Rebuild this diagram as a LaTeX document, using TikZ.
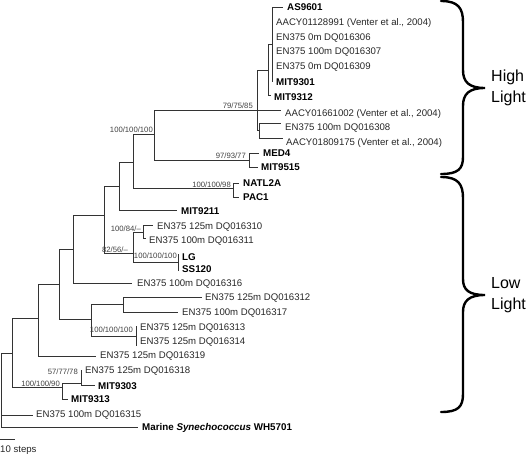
\documentclass[tikz,border=0pt]{standalone}
\usepackage{fontspec}
\setmainfont{Liberation Sans}
\begin{document}
\begin{tikzpicture}[x=1pt,y=-1pt,
  br/.style={draw=black!80,line width=0.8pt},
  lf/.style={anchor=west,inner sep=0pt,text=black!85,font=\fontsize{9.6}{11}\selectfont},
  lfb/.style={anchor=west,inner sep=0pt,text=black,font=\fontsize{9.8}{11}\selectfont\bfseries},
  bs/.style={anchor=east,inner sep=0pt,text=black!75,font=\fontsize{7.7}{9}\selectfont},
  brace/.style={draw=black,line width=2.4pt,line cap=round},
  bl/.style={anchor=west,inner sep=0pt,align=left,font=\fontsize{16}{21}\selectfont}]
\useasboundingbox (0,0) rectangle (528,455);
% internal nodes
\coordinate (R) at (1,353);
\coordinate (n12) at (12,353);
\coordinate (n38) at (38,318);
\coordinate (n59) at (59,284);
\coordinate (n73) at (73,249);
\coordinate (n104) at (104,215);
\coordinate (n119) at (119,186);
\coordinate (n133) at (133,162);
\coordinate (n154) at (154,134);
\coordinate (n257) at (257,110);
\coordinate (n268) at (268,70);
\coordinate (n272) at (272,44);
\coordinate (n259) at (259,130);
\coordinate (n249) at (249,160);
\coordinate (n233) at (233,188);
\coordinate (n133b) at (133,253);
\coordinate (n143) at (143,232);
\coordinate (n178) at (178,262);
\coordinate (n91) at (91,319);
\coordinate (n123) at (123,304);
\coordinate (n136) at (136,336);
\coordinate (n62) at (62,387);
\coordinate (n81) at (81,383);
% leaf ends
\coordinate (eAS) at (283,7);
\coordinate (eA1) at (272,23);
\coordinate (e306) at (272,38);
\coordinate (e307) at (272,52);
\coordinate (e309) at (272,67);
\coordinate (e9301) at (272,82);
\coordinate (e9312) at (271,95);
\coordinate (eA2) at (281,110);
\coordinate (e308) at (281,123);
\coordinate (eA3) at (283,138);
\coordinate (eMED4) at (259,153);
\coordinate (e9515) at (258,167);
\coordinate (eNATL) at (239,183);
\coordinate (ePAC) at (239,197);
\coordinate (e9211) at (177,210);
\coordinate (e310) at (153,225);
\coordinate (e311) at (146,238);
\coordinate (eLG) at (178,254);
\coordinate (eSS) at (178,271);
\coordinate (e316) at (132,283);
\coordinate (e312) at (202,297);
\coordinate (e317) at (178,312);
\coordinate (e313) at (136,326);
\coordinate (e314) at (136,346);
\coordinate (e319) at (96,356);
\coordinate (e318) at (81,370);
\coordinate (e9303) at (95,385);
\coordinate (e9313) at (68,399);
\coordinate (e315) at (33,415);
\coordinate (eSyn) at (138,427);
% branches
\draw[br] (R) |- (n12) (R) |- (e315) (R) |- (eSyn);
\draw[br] (n12) |- (n38) (n12) |- (n62);
\draw[br] (n38) |- (n59) (n38) |- (e319);
\draw[br] (n59) |- (n73) (n59) |- (n91);
\draw[br] (n73) |- (n104) (n73) |- (e316);
\draw[br] (n104) |- (n119) (n104) |- (n133b);
\draw[br] (n119) |- (n133) (n119) |- (e9211);
\draw[br] (n133) |- (n154) (n133) |- (n233);
\draw[br] (n154) |- (n257) (n154) |- (n249);
\draw[br] (n257) |- (n268) (n257) |- (eA2) (n257) |- (n259);
\draw[br] (n268) |- (n272) (n268) |- (e9312);
\draw[br] (n272) |- (eAS) (n272) |- (e9301);
\draw[br] (n259) |- (e308) (n259) |- (eA3);
\draw[br] (n249) |- (eMED4) (n249) |- (e9515);
\draw[br] (n233) |- (eNATL) (n233) |- (ePAC);
\draw[br] (n133b) |- (n143) (n133b) |- (n178);
\draw[br] (n143) |- (e310) (n143) |- (e311);
\draw[br] (n178) |- (eLG) (n178) |- (eSS);
\draw[br] (n91) |- (n123) (n91) |- (n136);
\draw[br] (n123) |- (e312) (n123) |- (e317);
\draw[br] (n136) |- (e313) (n136) |- (e314);
\draw[br] (n62) |- (n81) (n62) |- (e9313);
\draw[br] (n81) |- (e318) (n81) |- (e9303);
% leaf labels
\node[lfb] (tAS) at (287,7) {AS9601};
\node[lf] (tA1) at (276,23) {AACY01128991 (Venter et al., 2004)};
\node[lf] (t306) at (276,38) {EN375 0m DQ016306};
\node[lf] (t307) at (276,52) {EN375 100m DQ016307};
\node[lf] (t309) at (276,67) {EN375 0m DQ016309};
\node[lfb] (t9301) at (276,82) {MIT9301};
\node[lfb] (t9312) at (274,97) {MIT9312};
\node[lf] (tA2) at (285,114) {AACY01661002 (Venter et al., 2004)};
\node[lf] (t308) at (285,128) {EN375 100m DQ016308};
\node[lf] (tA3) at (286,143) {AACY01809175 (Venter et al., 2004)};
\node[lfb] (tMED4) at (263,153) {MED4};
\node[lfb] (t9515) at (261,167) {MIT9515};
\node[lfb] (tNATL) at (243,183) {NATL2A};
\node[lfb] (tPAC) at (243,197) {PAC1};
\node[lfb] (t9211) at (181,211) {MIT9211};
\node[lf] (t310) at (157,227) {EN375 125m DQ016310};
\node[lf] (t311) at (149,241) {EN375 100m DQ016311};
\node[lfb] (tLG) at (182,257) {LG};
\node[lfb] (tSS) at (182,269) {SS120};
\node[lf] (t316) at (137,284) {EN375 100m DQ016316};
\node[lf] (t312) at (205,298) {EN375 125m DQ016312};
\node[lf] (t317) at (182,313) {EN375 100m DQ016317};
\node[lf] (t313) at (140,328) {EN375 125m DQ016313};
\node[lf] (t314) at (140,342) {EN375 125m DQ016314};
\node[lf] (t319) at (100,356) {EN375 125m DQ016319};
\node[lf] (t318) at (85,371) {EN375 125m DQ016318};
\node[lfb] (t9303) at (98,386) {MIT9303};
\node[lfb] (t9313) at (71,399) {MIT9313};
\node[lf] (t315) at (36,415) {EN375 100m DQ016315};
\node[lfb] (tSyn) at (142,428) {Marine \textit{Synechococcus} WH5701};
% support values
\node[bs] (s1) at (153,130) {100/100/100};
\node[bs] (s2) at (253,106) {79/75/85};
\node[bs] (s3) at (246,156) {97/93/77};
\node[bs] (s4) at (231,185) {100/100/98};
\node[bs] (s5) at (141,229) {100/84/--};
\node[bs] (s6) at (128,250) {82/56/--};
\node[bs] (s7) at (177,256) {100/100/100};
\node[bs] (s8) at (133,330) {100/100/100};
\node[bs] (s9) at (78,372) {57/77/78};
\node[bs] (s10) at (60,384) {100/100/90};
% scale bar
\coordinate (sb1) at (0,439);
\coordinate (sb2) at (15,439);
\draw[br] (sb1) -- (sb2);
\node[lf] (sbl) at (0,450) {10 steps};
% braces
\draw[brace] (441,1) .. controls (458,1) and (463,8) .. (463,22) -- (463,70)
  .. controls (463,82) and (469,88) .. (485,88)
  .. controls (469,88) and (463,94) .. (463,106) -- (463,157)
  .. controls (463,169) and (458,174) .. (441,174);
\draw[brace] (441,177) .. controls (458,177) and (463,184) .. (463,198) -- (463,279)
  .. controls (463,290) and (469,295) .. (485,295)
  .. controls (469,295) and (463,301) .. (463,312) -- (463,394)
  .. controls (463,407) and (458,412) .. (441,412);
\node[bl] (hl) at (491,88) {High\\Light};
\node[bl] (ll) at (491,295) {Low\\Light};
\end{tikzpicture}
\end{document}
